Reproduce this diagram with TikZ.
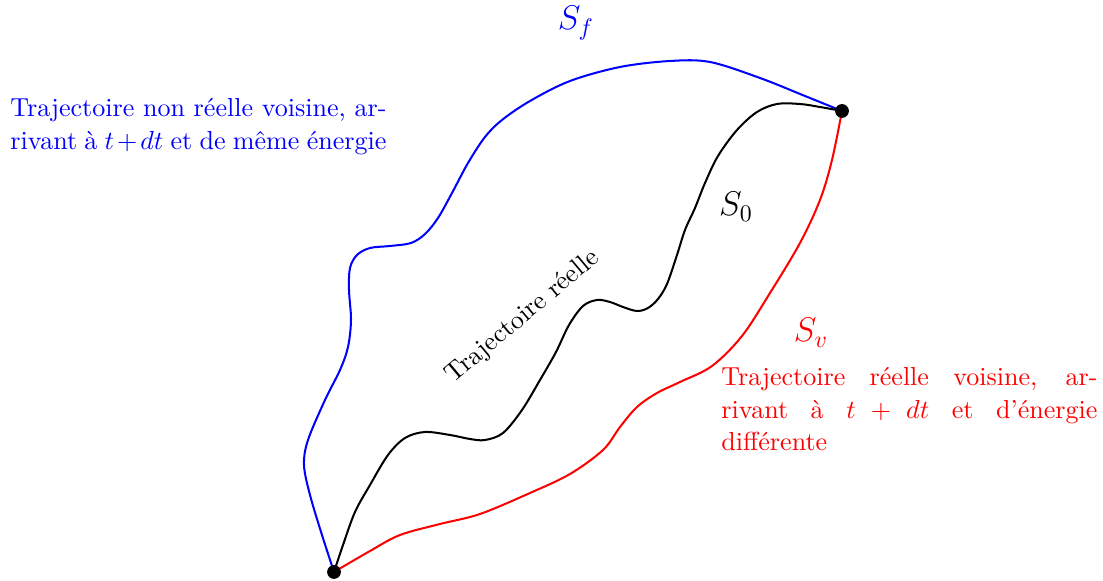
\documentclass[11pt,tikz,border=0pt]{standalone}
\usepackage{tikz}
\usetikzlibrary{positioning}

\begin{document}
\begin{tikzpicture}[
  x=0.4202pt, y=-0.4202pt,
  traj/.style={line width=0.85pt},
  endpt/.style={circle, fill=black, inner sep=0pt, minimum size=5.8pt},
  actlabel/.style={font=\Large},
  note/.style={align=justify, text width=158pt, inner sep=0pt, anchor=north west},
]
\useasboundingbox (0,0) rectangle (1103,581);

% ---------------- end points
\coordinate (src) at (334,572);
\coordinate (dst) at (842,111);

% ---------------- S_f : non real neighbour path
\draw[traj, blue] plot[smooth, tension=0.55] coordinates {(src) (322,535) (310,495) (304,465) (308,440)
  (325,400) (340,370) (348,347) (351,320) (349,290) (350,268) (357,255) (370,248) (390,246)
  (411,243) (425,234) (438,218) (452,193) (468,163) (485,137) (502,120) (530,101) (570,81)
  (620,67) (670,61) (710,62) (760,78) (805,96) (dst)};

% ---------------- S_0 : real path
\draw[traj, black] plot[smooth, tension=0.55] coordinates {(src) (343,545) (355,512) (370,485)
  (388,455) (405,438) (425,432) (450,435) (470,439) (485,440) (503,433) (522,410) (540,380)
  (556,352) (569,325) (583,306) (597,300) (610,302) (623,307) (637,311) (648,308)
  (658,299) (667,284) (677,255) (685,230) (695,208) (705,183) (718,156) (737,130) (757,112)
  (777,104) (800,104) (820,107) (dst)};

% ---------------- S_v : real neighbour path
\draw[traj, red] plot[smooth, tension=0.55] coordinates {(src) (370,551) (400,535) (440,524)
  (480,514) (530,493) (570,474) (603,450) (620,427) (637,407) (657,393) (680,382) (712,366)
  (742,336) (770,293) (800,243) (820,200) (832,160) (dst)};

\node[endpt] (dotsrc) at (src) {};
\node[endpt] (dotdst) at (dst) {};

% ---------------- labels
\node[actlabel, blue, anchor=base] (sf) at (576,30) {$S_f$};
\node[actlabel, anchor=base] (s0) at (736,216) {$S_0$};
\node[actlabel, red, anchor=base] (sv) at (811,342) {$S_v$};
\node[rotate=40] (real) at (523,317) {Trajectoire réelle};

\node[note, blue] (fnote) at (10,98)
  {Trajectoire non réelle voisine, ar-\linebreak rivant à $t+dt$ et de même énergie};
\node[note, red] (vnote) at (721,367)
  {Trajectoire réelle voisine, ar-\linebreak rivant à $t+dt$ et d'énergie\linebreak différente};

\end{tikzpicture}
\end{document}
